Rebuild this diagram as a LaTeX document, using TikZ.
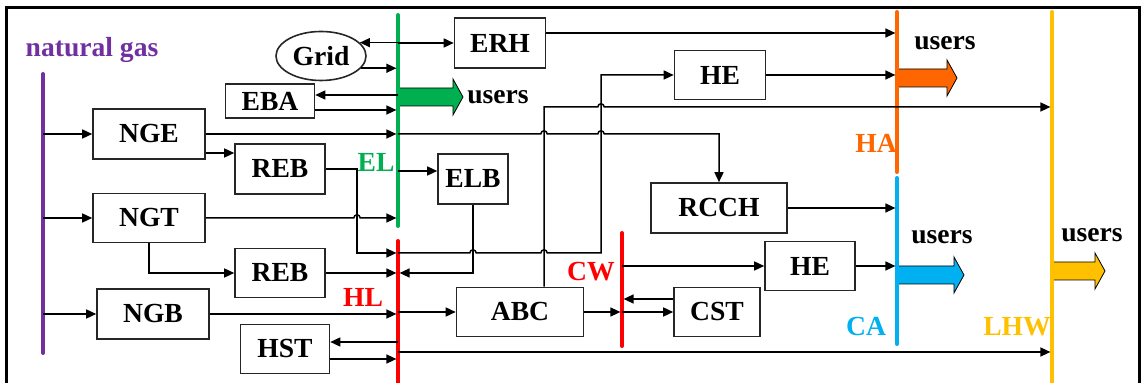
\documentclass[tikz,border=0pt]{standalone}
\usepackage{fontspec}
\setmainfont{Liberation Serif}
\usetikzlibrary{arrows.meta,shapes.geometric}

\definecolor{ngpurple}{RGB}{112,48,160}
\definecolor{elgreen}{RGB}{0,176,80}
\definecolor{hlred}{RGB}{255,0,0}
\definecolor{haorange}{RGB}{255,102,0}
\definecolor{cablue}{RGB}{0,176,240}
\definecolor{lhwyellow}{RGB}{255,192,0}

\tikzstyle{block}=[draw=black!85,line width=0.8pt,rectangle,inner sep=0pt,font=\bfseries\fontsize{13.8}{15}\selectfont]
\tikzstyle{flow}=[draw,line width=0.75pt,-{Triangle[length=5pt,width=4.5pt]}]
\tikzstyle{tobus}=[flow,shorten >=0.8pt]
\tikzstyle{bus}=[line width=2pt,line cap=round]
\tikzstyle{buslabel}=[inner sep=0pt,font=\bfseries\fontsize{13.8}{15}\selectfont]
\newcommand{\pxunit}{0.5pt}

\begin{document}
\begin{tikzpicture}[x=\pxunit, y=-\pxunit]
    \useasboundingbox (0,0) rectangle (1141,383);
    \draw[line width=1.5pt] (6,395) -- (6,8) -- (1139,8) -- (1139,395);
    % Users arrows first, the buses cover their tails
    \foreach \x/\y/\len/\col in {398/97/65/elgreen, 897/78/60/haorange, 897/275/67/cablue, 1052/271/53/lhwyellow}
        \filldraw[fill=\col,draw=black,line width=0.4pt] (\x,\y-9) -- (\x+\len-10,\y-9) -- (\x+\len-10,\y-18)
            -- (\x+\len,\y) -- (\x+\len-10,\y+18) -- (\x+\len-10,\y+9) -- (\x,\y+9) -- cycle;
    \foreach \pos/\name in {{(498,97)/usrEL}, {(945,43)/usrHA}, {(942,237)/usrCA}, {(1092,235)/usrLHW}}
        \node[buslabel] (\name) at \pos {users};
    % Energy buses and their labels
    \foreach \name/\x/\ya/\yb/\col in {NG/43/74/353/ngpurple, EL/398/15/226/elgreen, HL/398/241/395/hlred,
        CW/622/233/346/hlred, HA/897/12/172/haorange, CA/897/178/344/cablue, LHW/1052/12/395/lhwyellow}
    {
        \coordinate (\name t) at (\x,\ya);
        \coordinate (\name b) at (\x,\yb);
        \draw[bus,\col] (\name t) -- (\name b);
    }
    \foreach \pos/\name/\txt/\col in {{(92,50)/lblNG/natural gas/ngpurple}, {(376,162)/lblEL/EL/elgreen},
        {(363,297)/lblHL/HL/hlred}, {(591,272)/lblCW/CW/hlred}, {(876,143)/lblHA/HA/haorange},
        {(866,327)/lblCA/CA/cablue}, {(1017,327)/lblLHW/LHW/lhwyellow}}
        \node[buslabel,text=\col] (\name) at \pos {\txt};
    % Devices
    \node[block,ellipse,minimum width=45pt,minimum height=24.5pt] (Grid) at (321,56) {Grid};
    \foreach \pos/\name/\txt/\w/\h in {{(149,134)/NGE/NGE/56/25}, {(149,218)/NGT/NGT/56/24.5},
        {(153,314)/NGB/NGB/56/25}, {(270,101)/EBA/EBA/44.5/17}, {(280,169)/REBa/REB/45/25},
        {(280,273)/REBb/REB/45/24.5}, {(285,349)/HST/HST/44.5/24.5}, {(500,43)/ERH/ERH/45.5/25},
        {(720,75)/HEa/HE/45.5/24.5}, {(473,179)/ELB/ELB/35/25}, {(719,208)/RCCH/RCCH/68/25},
        {(520,312)/ABC/ABC/63.5/24.5}, {(717,312)/CST/CST/43/24.5}, {(810,266)/HEb/HE/45/24.5}}
        \node[block,minimum width=\w pt,minimum height=\h pt] (\name) at \pos {\txt};
    \coordinate (ja) at (357,169);
    \coordinate (jb) at (357,253);
    \coordinate (riser) at ([xshift=12pt]ABC.north);
    \coordinate (abcup) at (544,107);
    \coordinate (hlup) at (601,253);
    % Natural gas feeds
    \foreach \dest in {NGE,NGT,NGB}
        \path[flow] (\dest.west -| NGt) -- (\dest.west);
    % Electricity
    \path[flow] (Grid.19 -| ELt) -- (Grid.19);
    \path[tobus] (Grid.-17) -- (Grid.-17 -| ELt);
    \path[flow] (ERH.west -| ELt) -- (ERH.west);
    \path[flow] ([yshift=3pt]EBA.east -| ELt) -- ([yshift=3pt]EBA.east);
    \path[tobus] ([yshift=-4.5pt]EBA.east) -- ([yshift=-4.5pt]EBA.east -| ELt);
    \path[tobus] (NGE.east) -- (NGE.east -| ELt);
    \path[flow] ([yshift=-9.5pt]NGE.east) -- ([yshift=-9.5pt]NGE.east -| REBa.west);
    \path[tobus] (NGT.east) -- ([xshift=-1.6pt]ja |- NGT.east) arc[start angle=180,end angle=0,radius=1.6pt]
        -- (NGT.east -| ELt);
    \path[flow] ([yshift=4pt]ELB.west -| ELt) -- ([yshift=4pt]ELB.west);
    \path[flow] (NGE.east -| ELt) -- ([xshift=-1.6pt]NGE.east -| riser) arc[start angle=180,end angle=0,radius=1.6pt]
        -- ([xshift=-1.6pt]NGE.east -| hlup) arc[start angle=180,end angle=0,radius=1.6pt]
        -- (NGE.east -| RCCH.north) -- (RCCH.north);
    % Heat
    \path[tobus] (REBa.east) -- (ja) -- (jb) -- (jb -| HLt);
    \path[flow] (jb -| HLt) -- ([xshift=-1.6pt]jb -| ELB.south) arc[start angle=180,end angle=0,radius=1.6pt]
        -- ([xshift=-1.6pt]jb -| riser) arc[start angle=180,end angle=0,radius=1.6pt]
        -- (hlup) -- (hlup |- HEa.west) -- (HEa.west);
    \path[tobus] (riser) -- (abcup) -- ([xshift=-1.6pt]abcup -| hlup) arc[start angle=180,end angle=0,radius=1.6pt]
        -- (abcup -| LHWt);
    \path[flow] (NGT.south) -- (NGT.south |- REBb.west) -- (REBb.west);
    \path[tobus] (REBb.east) -- (REBb.east -| HLt);
    \path[tobus] (ELB.south) -- (ELB.south |- REBb.east) -- (REBb.east -| HLt);
    \path[tobus] (NGB.east) -- (NGB.east -| HLt);
    \path[flow] (ABC.west -| HLt) -- (ABC.west);
    \path[flow] ([yshift=3.5pt]HST.east -| HLt) -- ([yshift=3.5pt]HST.east);
    \path[tobus] ([yshift=-5pt]HST.east) -- ([yshift=-5pt]HST.east -| HLt);
    \path[tobus] ([yshift=-1.5pt]HST.east -| HLt) -- ([yshift=-1.5pt]HST.east -| LHWt);
    \path[tobus] ([yshift=5pt]ERH.east) -- ([yshift=5pt]ERH.east -| HAt);
    \path[tobus] (HEa.east) -- (HEa.east -| HAt);
    % Cooling
    \path[tobus] (ABC.east) -- (ABC.east -| CWt);
    \path[flow] (CST.west -| CWt) -- (CST.west);
    \path[tobus] ([yshift=6.5pt]CST.west) -- ([yshift=6.5pt]CST.west -| CWt);
    \path[flow] (HEb.west -| CWt) -- (HEb.west);
    \path[tobus] (RCCH.east) -- (RCCH.east -| CAt);
    \path[tobus] (HEb.east) -- (HEb.east -| CAt);
\end{tikzpicture}
\end{document}
